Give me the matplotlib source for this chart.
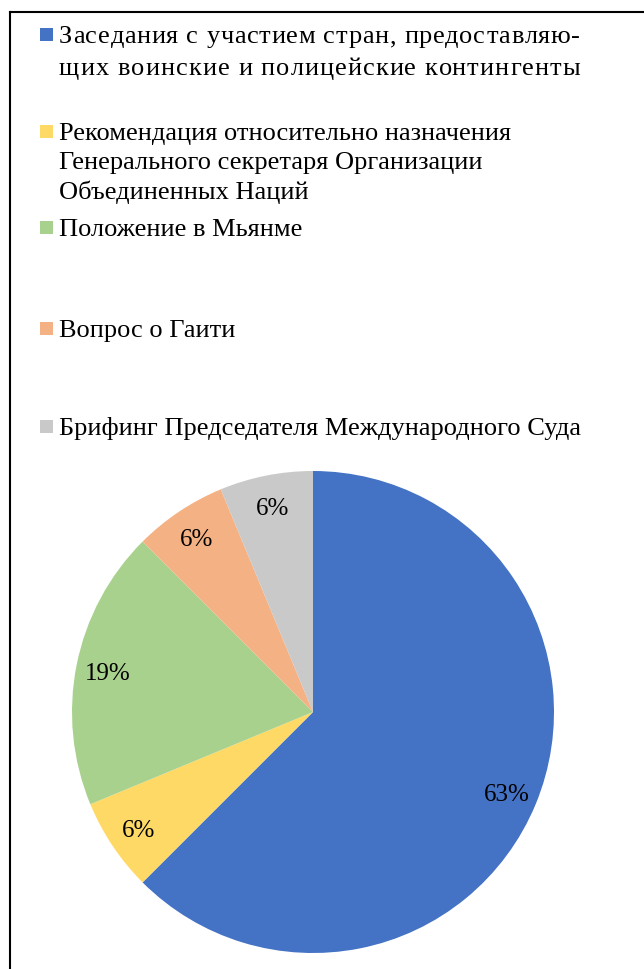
import matplotlib
matplotlib.use("Agg")
import matplotlib.pyplot as plt
from matplotlib.patches import Rectangle
from matplotlib.lines import Line2D
from matplotlib.font_manager import FontProperties

categories = [
    "Заседания с участием стран, предоставляю-\nщих воинские и полицейские контингенты",
    "Рекомендация относительно назначения\nГенерального секретаря Организации\nОбъединенных Наций",
    "Положение в Мьянме",
    "Вопрос о Гаити",
    "Брифинг Председателя Международного Суда",
]
values = [10, 1, 3, 1, 1]
colors = ["#4472C4", "#FFD966", "#A9D18E", "#F4B183", "#C9C9C9"]

W, H = 644, 969
fig = plt.figure(figsize=(W / 100, H / 100), dpi=100)
fig.patch.set_facecolor("white")
FONT = ["Liberation Serif", "DejaVu Serif"]
FS = 19
renderer = fig.canvas.get_renderer()
prop = FontProperties(family=FONT, size=FS)

def px_width(s):
    w, h, d = renderer.get_text_width_height_descent(s, prop, ismath=False)
    return w

def draw_line(text, x0, baseline, target_right=None):
    if target_right is None:
        fig.text(x0 / W, 1 - baseline / H, text, ha="left", va="baseline",
                 fontproperties=prop, color="black")
        return
    natural = px_width(text)
    n = len(text)
    extra = (target_right - x0 - natural) / max(n - 1, 1)
    for i, ch in enumerate(text):
        if ch == " ":
            continue
        x = x0 + px_width(text[:i]) + i * extra if i > 0 else x0
        fig.text(x / W, 1 - baseline / H, ch, ha="left", va="baseline",
                 fontproperties=prop, color="black")

# border
fig.add_artist(Line2D([10 / W, 10 / W], [0, 1 - 12 / H], color="black", lw=1.5, transform=fig.transFigure))
fig.add_artist(Line2D([10 / W, 1], [1 - 12 / H, 1 - 12 / H], color="black", lw=1.5, transform=fig.transFigure))

# legend entries: first-line baseline (px), line step (px), justified right edge
baselines = [43, 140, 236, 337, 435]
steps = [32, 29.5, 29.5, 29.5, 29.5]
justify = [580, None, None, None, None]
for lab, col, base, step, jr in zip(categories, colors, baselines, steps, justify):
    fig.add_artist(Rectangle((40 / W, 1 - (base - 2) / H), 13 / W, 13 / H,
                             facecolor=col, edgecolor="none", transform=fig.transFigure))
    for k, line in enumerate(lab.split("\n")):
        draw_line(line, 59, base + k * step, jr)

# pie
cx, cy, r = 313, 712, 241
ax = fig.add_axes([(cx - r) / W, (H - cy - r) / H, 2 * r / W, 2 * r / H])
wedges, texts, autotexts = ax.pie(
    values, colors=colors, startangle=90, counterclock=False, radius=1,
    autopct=lambda p: f"{int(p + 0.5)}%", pctdistance=0.87,
    wedgeprops=dict(linewidth=0),
    textprops=dict(fontsize=18, family=FONT, color="black"),
)
for t in autotexts:
    t.set_va("center_baseline")
ax.set_xlim(-1, 1)
ax.set_ylim(-1, 1)
ax.set_aspect("equal")
ax.axis("off")

fig.savefig("out.png", dpi=100, facecolor="white")
